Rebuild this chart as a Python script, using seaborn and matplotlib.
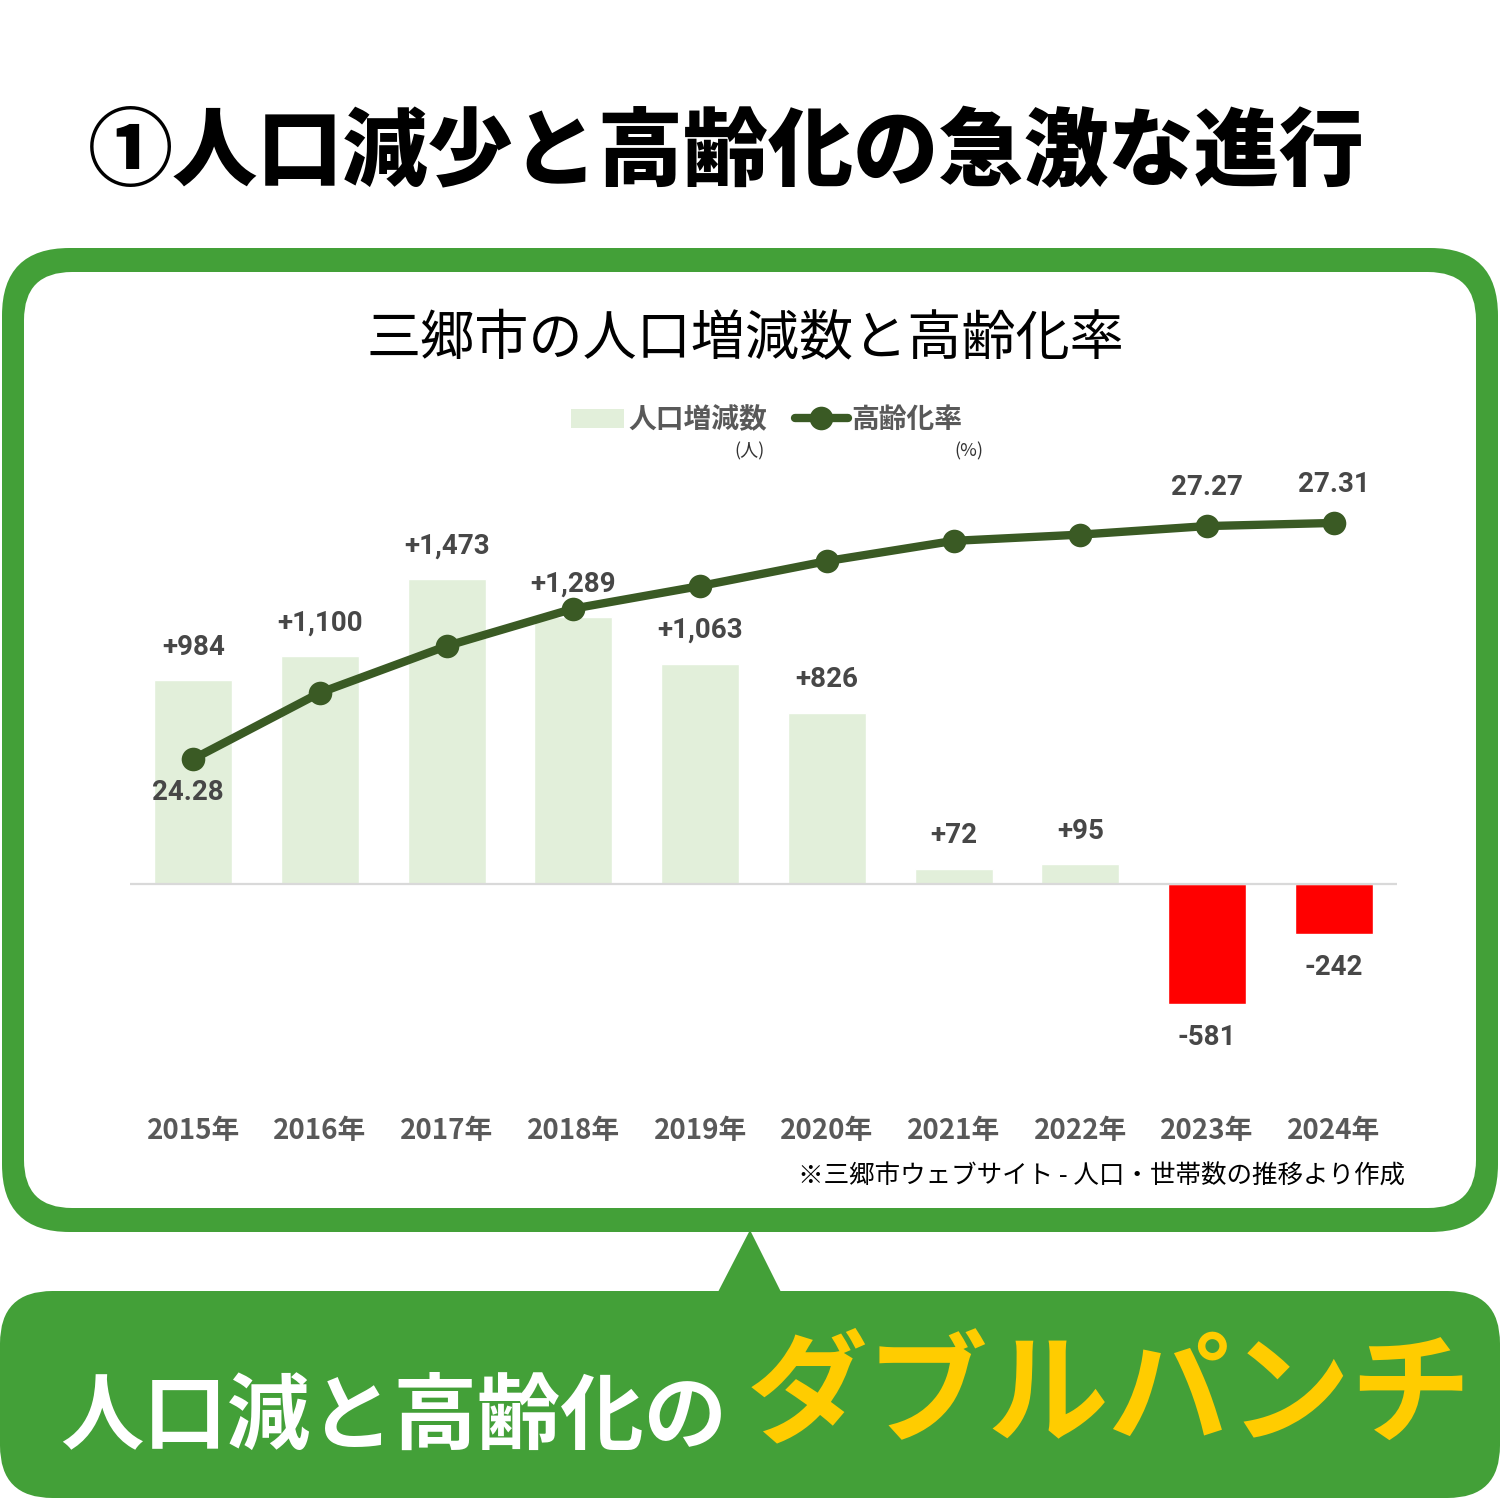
import numpy as np
import matplotlib
matplotlib.use('Agg')
import matplotlib.pyplot as plt
import seaborn as sns
from matplotlib.patches import FancyBboxPatch, Polygon, Patch
from matplotlib.lines import Line2D

# data
years = ['2015年', '2016年', '2017年', '2018年', '2019年',
         '2020年', '2021年', '2022年', '2023年', '2024年']
changes = [984, 1100, 1473, 1289, 1063, 826, 72, 95, -581, -242]
aging_rate = [24.28, 25.13, 25.73, 26.21, 26.50, 26.82, 27.08, 27.16, 27.27, 27.31]
rate_label_idx = [0, 8, 9]

GREEN = '#43A038'
BAR_GREEN = '#E2EFDA'
LINE_GREEN = '#3A5A24'
TXT_GRAY = '#474747'
JP = ['Noto Sans CJK JP', 'DejaVu Sans']
NUM = ['Roboto', 'Noto Sans CJK JP', 'DejaVu Sans']

sns.set_theme(style='white')
plt.rcParams['font.family'] = JP

W = 1500.0
def fx(px):
    return px / W
def fy(py):
    return 1 - py / W

fig = plt.figure(figsize=(15, 15), dpi=100)
fig.patch.set_facecolor('white')

# green frame around the chart
outer = FancyBboxPatch((fx(2), fy(1232)), fx(1496), fy(248) - fy(1232),
                       boxstyle='round,pad=0,rounding_size=0.045',
                       transform=fig.transFigure, facecolor=GREEN,
                       edgecolor='none', zorder=-10)
inner = FancyBboxPatch((fx(24), fy(1208)), fx(1452), fy(272) - fy(1208),
                       boxstyle='round,pad=0,rounding_size=0.032',
                       transform=fig.transFigure, facecolor='white',
                       edgecolor='none', zorder=-9)
fig.patches.extend([outer, inner])

# bottom banner + pointer
banner = FancyBboxPatch((fx(0), fy(1498)), fx(1500), fy(1291) - fy(1498),
                        boxstyle='round,pad=0,rounding_size=0.035',
                        transform=fig.transFigure, facecolor=GREEN,
                        edgecolor='none', zorder=-10)
tri = Polygon([(fx(718), fy(1292)), (fx(750), fy(1230)), (fx(781), fy(1292))],
              closed=True, transform=fig.transFigure, facecolor=GREEN,
              edgecolor='none', zorder=-10)
fig.patches.extend([banner, tri])

# headings
fig.text(fx(88), fy(154), '①人口減少と高齢化の急激な進行', ha='left', va='center',
         fontsize=61.3, fontweight='black', color='black', family=JP)
fig.text(fx(745), fy(340), '三郷市の人口増減数と高齢化率', ha='center', va='center',
         fontsize=39, color='black', family=JP)
fig.text(fx(60), fy(1418), '人口減と高齢化の', ha='left', va='center',
         fontsize=60, fontweight='bold', color='white', family=JP)
fig.text(fx(747), fy(1398), 'ダブルパンチ', ha='left', va='center',
         fontsize=87, fontweight='bold', color='#FFCC00', family=JP)
fig.text(fx(1405), fy(1177), '※三郷市ウェブサイト - 人口・世帯数の推移より作成',
         ha='right', va='center', fontsize=18.4, color='black', family=JP)

# chart
ax = fig.add_axes([fx(130), fy(1100), fx(1267), (1100 - 470) / W])
ax.set_facecolor('none')
signs = ['pos' if v >= 0 else 'neg' for v in changes]
sns.barplot(x=years, y=changes, hue=signs, palette={'pos': BAR_GREEN, 'neg': '#FF0000'},
            dodge=False, width=0.615, saturation=1, legend=False, ax=ax)
ax.set_xlim(-0.5, 9.5)
ax.set_ylim(-1043, 2000)
ax.axhline(0, color='#D9D9D9', lw=1.6, zorder=1)
for s in ax.spines.values():
    s.set_visible(False)
ax.set_yticks([])
ax.set_xlabel('')
ax.set_ylabel('')
ax.tick_params(axis='x', length=0, pad=12)
for lab in ax.get_xticklabels():
    lab.set_fontsize(20)
    lab.set_fontweight('bold')
    lab.set_color('#595959')
    lab.set_family(JP)

for i, v in enumerate(changes):
    txt = f'+{v:,}' if v >= 0 else f'{v:,}'
    off = 24 if v >= 0 else -24
    ax.annotate(txt, (i, v), xytext=(0, off), textcoords='offset points',
                ha='center', va='center', fontsize=20, fontweight='bold',
                color=TXT_GRAY, family=NUM)

ax2 = ax.twinx()
ax2.set_facecolor('none')
sns.lineplot(x=np.arange(len(years)), y=aging_rate, ax=ax2, color=LINE_GREEN,
             lw=6, marker='o', markersize=17, markeredgewidth=0)
ax2.set_ylim(19.90, 27.99)
ax2.set_yticks([])
ax2.set_ylabel('')
for s in ax2.spines.values():
    s.set_visible(False)
for i in rate_label_idx:
    off = (-4, -24) if i == 0 else (0, 28)
    ax2.annotate(f'{aging_rate[i]:.2f}', (i, aging_rate[i]), xytext=off,
                 textcoords='offset points', ha='center', va='center',
                 fontsize=20, fontweight='bold', color=TXT_GRAY, family=NUM)

# legend
handles = [Patch(facecolor=BAR_GREEN, edgecolor='none'),
           Line2D([0], [0], color=LINE_GREEN, lw=6, marker='o', markersize=17,
                  markeredgewidth=0)]
leg = fig.legend(handles, ['人口増減数', '高齢化率'], ncol=2, loc='center',
                 bbox_to_anchor=(fx(767), fy(420)), frameon=False,
                 handlelength=1.9, handletextpad=0.15, columnspacing=1.0,
                 prop={'family': JP, 'weight': 'bold', 'size': 20})
for t in leg.get_texts():
    t.set_color('#595959')
fig.text(fx(750), fy(451), '(人)', ha='center', va='center', fontsize=13,
         color='#333333', family=JP)
fig.text(fx(969), fy(451), '(%)', ha='center', va='center', fontsize=13,
         color='#333333', family=JP)

fig.savefig('out.png', dpi=100)
